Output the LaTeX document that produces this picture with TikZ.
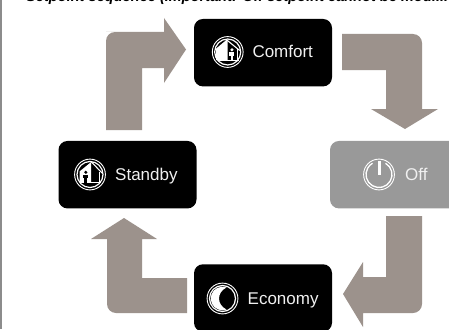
\documentclass[tikz,border=0pt]{standalone}
\usepackage{fontspec}
\setmainfont{Liberation Sans}
\definecolor{arrowgrey}{HTML}{9C928C}
\definecolor{offgrey}{HTML}{999999}
\definecolor{framegrey}{HTML}{8C8C8C}
\definecolor{labelwhite}{HTML}{F0F0F0}
\tikzset{
  modebox/.style={rounded corners=9pt,inner sep=0pt,minimum width=138pt,minimum height=67.5pt,fill=black},
  modetext/.style={text=labelwhite,font=\fontsize{17}{20}\selectfont,anchor=base west,inner sep=0pt},
  bigarrow/.style={fill=arrowgrey,draw=none},
  ringo/.style={draw=white,line width=0.9pt},
  ringi/.style={draw=white,line width=1.2pt},
}
\begin{document}
\begin{tikzpicture}[x=1pt,y=-1pt]
\useasboundingbox (0,0) rectangle (449,329);
\clip (0,0) rectangle (449,329);
\fill[white] (0,0) rectangle (449,329);
\fill[framegrey] (0,0) rectangle (1.7,329);
\node[anchor=base west,inner sep=0pt,font=\fontsize{14.6}{16}\selectfont\itshape\bfseries] (title) at (26,2) {Setpoint sequence (Important: Off setpoint cannot be modi...};
% block arrows
\fill[bigarrow] (106,130) -- (106,41) [rounded corners=9pt] -- (106,32) -- (115,32) [sharp corners] -- (164,32) -- (164,18) -- (186,49.5) -- (164,83) -- (164,68) -- (142,68) -- (142,130) -- cycle;
\fill[bigarrow] (342,34) -- (413,34) arc[start angle=-90,end angle=0,radius=9] -- (422,109) -- (438,109) -- (405,129) -- (371,109) -- (386,109) -- (386,70) -- (342,70) -- cycle;
\fill[bigarrow] (386,216) -- (422,216) -- (422,304) arc[start angle=0,end angle=90,radius=9] -- (363,313) -- (363,327) -- (343,294) -- (363,262) -- (363,277) -- (386,277) -- cycle;
\fill[bigarrow] (187,278) -- (187,313) -- (116,313) arc[start angle=90,end angle=180,radius=9] -- (107,239) -- (91,239) -- (124,218) -- (157,239) -- (142,239) -- (142,278) -- cycle;
% boxes
\node[modebox] (comfort) at (263,52.7) {};
\node[modebox] (standby) at (127.5,174.7) {};
\node[modebox,fill=offgrey] (off) at (399,174.7) {};
\node[modebox] (economy) at (263,298) {};
% labels
\node[modetext] (comforttext) at (252.3,57) {Comfort};
\node[modetext] (standbytext) at (115,180) {Standby};
\node[modetext] (offtext) at (405,180.5) {Off};
\node[modetext] (economytext) at (247.5,304) {Economy};
% comfort icon
\begin{scope}[shift={(227.7,52)}]
  \draw[ringo] (0,0) circle (15.4);
  \draw[ringi] (0,0) circle (13);
  \fill[white] (-11.5,-3.5) -- (-1,-12.3) -- (0,-11) -- (0,8) -- (-11.5,8) -- cycle;
  \draw[white,line width=1.1pt] (-1.5,-12.5) -- (12,-1.5);
  \draw[white,line width=1.1pt] (-10,8.3) -- (11,8.3);
  \draw[white,line width=1pt] (9.5,-2.5) -- (9.5,8);
  \fill[white] (4.2,-2.2) circle (1.7);
  \fill[white] (1.7,0) rectangle (6.7,3.5);
  \fill[white] (2.8,3) rectangle (5.6,8);
\end{scope}
% standby icon
\begin{scope}[shift={(90,174.5)}]
  \draw[ringo] (0,0) circle (15.4);
  \draw[ringi] (0,0) circle (13);
  \fill[white] (-10.5,-3) -- (1,-12.3) -- (1,8) -- (-10.5,8) -- cycle;
  \draw[white,line width=1.1pt] (1.5,-12.5) -- (12,-1.5);
  \draw[white,line width=1.1pt] (-10,8.3) -- (11,8.3);
  \draw[white,line width=1pt] (9.5,-2.5) -- (9.5,8);
  \fill[black] (-4.2,-2.2) circle (1.7);
  \fill[black] (-6.7,0) rectangle (-1.7,3.5);
  \fill[black] (-5.6,3) rectangle (-2.8,8);
\end{scope}
% off icon
\begin{scope}[shift={(379,174.5)}]
  \draw[ringo] (0,0) circle (15.4);
  \draw[white,line width=1.3pt] (-60:13) arc[start angle=-60,end angle=240,radius=13];
  \fill[white] (-1.5,-13.5) rectangle (1.5,0);
\end{scope}
% economy icon
\begin{scope}[shift={(222.5,298.5)}]
  \draw[ringo] (0,0) circle (15.4);
  \draw[ringi] (0,0) circle (13);
  \fill[white] (-70:11.8) arc[start angle=-70,end angle=-290,radius=11.8] .. controls (-6,6) and (-6,-6) .. (-70:11.8) -- cycle;
\end{scope}
\end{tikzpicture}
\end{document}
